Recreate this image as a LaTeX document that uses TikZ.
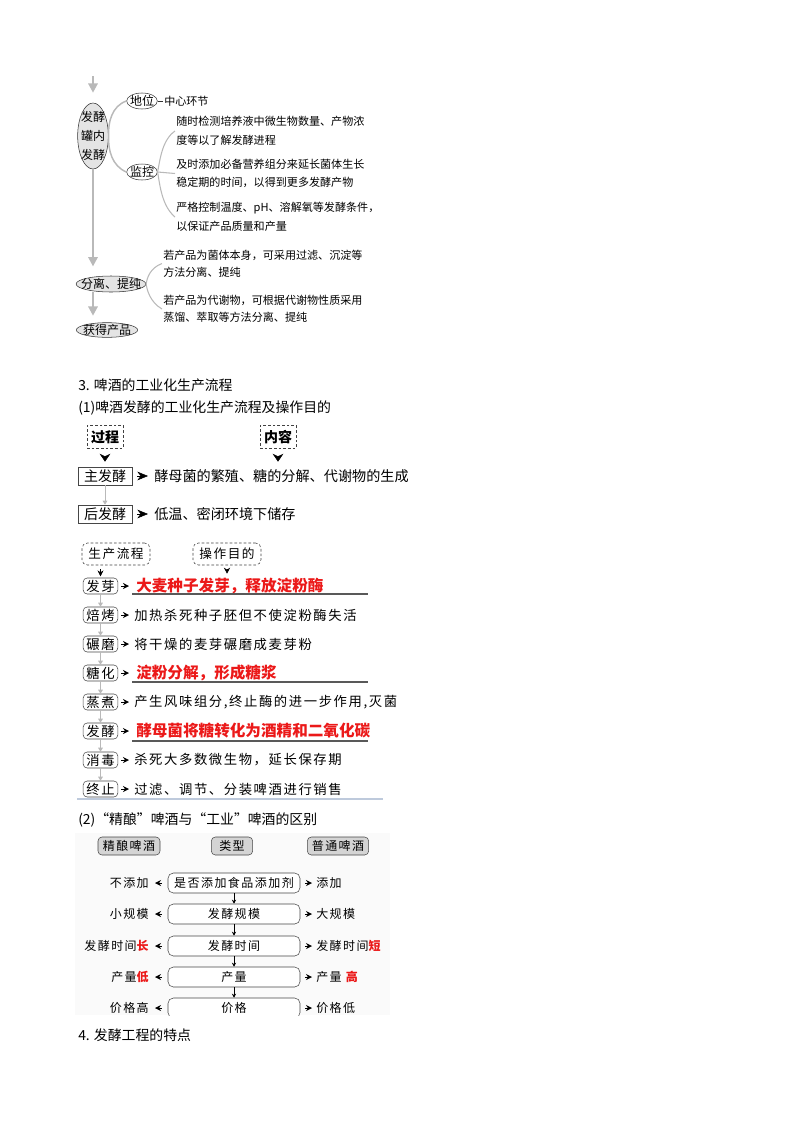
\documentclass[tikz,border=0pt]{standalone}
\usepackage{fontspec}
\setmainfont{Noto Sans CJK SC}
\newfontfamily\spc[LetterSpace=12]{Noto Sans CJK SC}
\usetikzlibrary{arrows.meta,shapes.geometric}

\definecolor{branchgray}{RGB}{185,185,185}
\definecolor{ovalfill}{RGB}{228,228,228}
\definecolor{boxline}{RGB}{70,70,70}
\definecolor{keyred}{RGB}{235,25,25}
\definecolor{tabfill}{RGB}{212,212,212}
\definecolor{rulegray}{RGB}{190,202,220}
\definecolor{panelgray}{RGB}{250,250,250}
\newcommand{\hot}[1]{{\color{keyred}\bfseries #1}}

\begin{document}
\begin{tikzpicture}[x=0.75pt,y=0.75pt,yscale=-1,xscale=1,
    every node/.style={inner sep=0.75pt},
    oval/.style={draw=black!80,ellipse,inner xsep=-4pt,inner ysep=-1.5pt,font=\fontsize{9}{14.5}\selectfont},
    note/.style={anchor=west,align=left,font=\fontsize{8.3}{14}\selectfont},
    graylink/.style={draw=branchgray,line width=1.6pt,-{Triangle[length=7pt,width=7pt]}},
    branch/.style={draw=branchgray,line width=1.1pt},
    head/.style={anchor=west,font=\fontsize{10.4}{12}\selectfont},
    tagbox/.style={draw=black!75,dash pattern=on 2pt off 1.5pt,minimum width=27pt,minimum height=17pt,font=\bfseries\fontsize{10.5}{12}\selectfont},
    stage/.style={draw=boxline,minimum width=40.5pt,minimum height=13.5pt,font=\fontsize{10.5}{12}\selectfont},
    aim/.style={anchor=west,font=\fontsize{10.6}{12}\selectfont},
    bigtip/.style={-{Stealth[length=6pt,width=8pt]},shorten <=5.25pt,shorten >=3.75pt},
    sidetip/.style={-{Stealth[length=8pt,width=6.5pt,inset=2.5pt]},shorten <=3.75pt,shorten >=3.75pt},
    smalltip/.style={-{Stealth[length=4.5pt,width=4.5pt,inset=1.5pt]}},
    grayhop/.style={draw=branchgray,line width=0.6pt,-{Triangle[length=3pt,width=3.5pt]}},
    roundtag/.style={draw=black!75,dash pattern=on 2pt off 1.5pt,rounded corners=4pt,minimum width=51pt,minimum height=16.5pt,font=\spc\fontsize{9.5}{12}\selectfont},
    stepbox/.style={draw=boxline,rounded corners=3pt,minimum width=26pt,minimum height=12pt,font=\spc\fontsize{10}{12}\selectfont},
    stepaim/.style={anchor=west,font=\spc\fontsize{10}{12}\selectfont},
    redaim/.style={anchor=west,text=keyred,font=\bfseries\fontsize{11.7}{13}\selectfont},
    uline/.style={draw=black!65,line width=0.8pt},
    headbox/.style={draw=boxline,fill=tabfill,rounded corners=3pt,minimum height=13.5pt,font=\spc\fontsize{9}{12}\selectfont},
    pairbox/.style={draw=boxline,fill=white,rounded corners=4pt,minimum width=99pt,minimum height=15pt,font=\spc\fontsize{9}{12}\selectfont},
    pairlabel/.style={font=\spc\fontsize{9}{12}\selectfont}
  ]
    \useasboundingbox (0,0) rectangle (800,1132);

    %Shape: Ellipse [tank]
    \coordinate (tankin) at (93,76);
    \node[oval,fill=ovalfill,minimum width=23pt,minimum height=49.5pt,align=center] (tank) at (93,136) {发酵\\罐内\\发酵};
    %Shape: Ellipse [position / monitor]
    \node[oval,minimum width=23pt,minimum height=12pt] (diwei) at (142,101) {地位};
    \node[oval,minimum width=23pt,minimum height=12pt] (jiankong) at (142,172) {监控};
    %Shape: Ellipse [separation / product]
    \node[oval,fill=ovalfill,minimum width=51pt,minimum height=12pt] (fenli) at (111,284) {分离、提纯};
    \node[oval,fill=ovalfill,minimum width=46pt,minimum height=11pt] (product) at (107,330) {获得产品};

    % Text Node
    \node[note] (core) at (163,101) {中心环节};
    % Text Node
    \node[note] (watch) at (175,131) {随时检测培养液中微生物数量、产物浓\\度等以了解发酵进程};
    % Text Node
    \node[note] (feed) at (175,173.5) {及时添加必备营养组分来延长菌体生长\\稳定期的时间，以得到更多发酵产物};
    % Text Node
    \node[note] (cond) at (175,217) {严格控制温度、pH、溶解氧等发酵条件，\\以保证产品质量和产量};
    % Text Node
    \node[note,font=\fontsize{8.3}{13}\selectfont] (cells) at (162,263.5) {若产品为菌体本身，可采用过滤、沉淀等\\方法分离、提纯};
    % Text Node
    \node[note,font=\fontsize{8.3}{13}\selectfont] (metab) at (162,309) {若产品为代谢物，可根据代谢物性质采用\\蒸馏、萃取等方法分离、提纯};

    %Straight Lines
    \draw[graylink,shorten >=7.5pt] (tankin) -- (tank.north);
    \draw[graylink,shorten >=7pt] (tank.south) -- (tank.south |- fenli.north);
    \draw[graylink,shorten >=5pt] (tank.south |- fenli.south) -- (tank.south |- product.north);
    \draw[black!80] (diwei) -- (core);
    %Curve Lines
    \draw[branch] (diwei.west) .. controls (112,106) and (108,122) .. (tank.east) .. controls (108,150) and (112,166) .. (jiankong.west);
    \draw[branch,line width=0.8pt] (watch.west) .. controls (162,140) and (160,160) .. (jiankong.east) .. controls (160,186) and (162,206) .. (cond.west);
    \draw[branch,line width=0.8pt] (jiankong.east) -- (feed.west);
    \draw[branch,line width=0.8pt] (cells.west) .. controls (150,268) and (147,278) .. (fenli.east) .. controls (147,290) and (150,302) .. (metab.west);

    % Text Node
    \node[head] (sec3) at (77,385) {3. 啤酒的工业化生产流程};
    % Text Node
    \node[head] (sub1) at (77,408) {(1)啤酒发酵的工业化生产流程及操作目的};

    %Shape: Rectangle [process / content]
    \node[tagbox] (process) at (105,437) {过程};
    \node[tagbox] (content) at (278,437) {内容};
    \node[stage] (mainferm) at (105,476) {主发酵};
    \node[stage] (postferm) at (105,514) {后发酵};
    % Text Node
    \node[aim] (mainaim) at (153,476) {酵母菌的繁殖、糖的分解、代谢物的生成};
    \node[aim] (postaim) at (153,514) {低温、密闭环境下储存};

    \draw[bigtip] (process.south) -- (mainferm.north);
    \draw[bigtip] (content.south) -- (content.south |- mainferm.north);
    \draw[sidetip] (mainferm.east) -- (mainaim.west);
    \draw[sidetip] (postferm.east) -- (postaim.west);
    \draw[grayhop] (mainferm.south) -- (postferm.north);

    %Shape: Rounded Rectangle [flow / aim]
    \node[roundtag] (flowtag) at (116,554) {生产流程};
    \node[roundtag] (aimtag) at (227,554) {操作目的};

    %Shape: Rounded Rectangle [steps]
    \node[stepbox] (faya) at (100.5,586) {发芽};
    \node[stepbox] (beikao) at (100.5,615) {焙烤};
    \node[stepbox] (nianmo) at (100.5,644) {碾磨};
    \node[stepbox] (tanghua) at (100.5,673) {糖化};
    \node[stepbox] (zhengzhu) at (100.5,702) {蒸煮};
    \node[stepbox] (fajiao) at (100.5,731) {发酵};
    \node[stepbox] (xiaodu) at (100.5,760) {消毒};
    \node[stepbox] (zhongzhi) at (100.5,789) {终止};

    % Text Node
    \node[redaim] (fayaaim) at (135,586) {大麦种子发芽，释放淀粉酶};
    \node[stepaim] (beikaoaim) at (133,615) {加热杀死种子胚但不使淀粉酶失活};
    \node[stepaim] (nianmoaim) at (133,644) {将干燥的麦芽碾磨成麦芽粉};
    \node[redaim] (tanghuaaim) at (135,673) {淀粉分解，形成糖浆};
    \node[stepaim] (zhengzhuaim) at (133,702) {产生风味组分,终止酶的进一步作用,灭菌};
    \node[redaim] (fajiaoaim) at (135,731) {酵母菌将糖转化为酒精和二氧化碳};
    \node[stepaim] (xiaoduaim) at (133,760) {杀死大多数微生物，延长保存期};
    \node[stepaim] (zhongzhiaim) at (133,789) {过滤、调节、分装啤酒进行销售};

    \draw[smalltip,shorten <=3pt,shorten >=1pt] (flowtag.south -| faya.north) -- (faya.north);
    \draw[smalltip,shorten <=3pt,shorten >=3pt] (aimtag.south) -- (aimtag.south |- faya.north);
    \draw[smalltip,shorten <=2.25pt,shorten >=4.5pt] (faya.east) -- (fayaaim.west);
    \draw[smalltip,shorten <=2.25pt,shorten >=3pt] (beikao.east) -- (beikaoaim.west);
    \draw[smalltip,shorten <=2.25pt,shorten >=3pt] (nianmo.east) -- (nianmoaim.west);
    \draw[smalltip,shorten <=2.25pt,shorten >=4.5pt] (tanghua.east) -- (tanghuaaim.west);
    \draw[smalltip,shorten <=2.25pt,shorten >=3pt] (zhengzhu.east) -- (zhengzhuaim.west);
    \draw[smalltip,shorten <=2.25pt,shorten >=4.5pt] (fajiao.east) -- (fajiaoaim.west);
    \draw[smalltip,shorten <=2.25pt,shorten >=3pt] (xiaodu.east) -- (xiaoduaim.west);
    \draw[smalltip,shorten <=2.25pt,shorten >=3pt] (zhongzhi.east) -- (zhongzhiaim.west);
    \draw[grayhop] (faya.south) -- (beikao.north);
    \draw[grayhop] (beikao.south) -- (nianmo.north);
    \draw[grayhop] (nianmo.south) -- (tanghua.north);
    \draw[grayhop] (tanghua.south) -- (zhengzhu.north);
    \draw[grayhop] (zhengzhu.south) -- (fajiao.north);
    \draw[grayhop] (fajiao.south) -- (xiaodu.north);
    \draw[grayhop] (xiaodu.south) -- (zhongzhi.north);
    %Straight Lines [underlines]
    \draw[uline] (132,594) -- (368,594);
    \draw[uline] (132,682) -- (368,682);
    \draw[uline] (132,741) -- (368,741);
    \draw[draw=rulegray,line width=0.8pt] (77,799) -- (383,799);

    % Text Node
    \node[head] (sub2) at (77,820) {(2)“精酿”啤酒与“工业”啤酒的区别};

    %Shape: Rectangle [faint panel]
    \fill[panelgray] (75,833) rectangle (390,1015);
    %Shape: Rounded Rectangle [header]
    \node[headbox,minimum width=46.5pt] (craft) at (129,846) {精酿啤酒};
    \node[headbox,minimum width=31pt] (kind) at (232,846) {类型};
    \node[headbox,minimum width=46pt] (regular) at (338,846) {普通啤酒};

    %Shape: Rounded Rectangle [items]
    \node[pairbox] (additive) at (234,883) {是否添加食品添加剂};
    \node[pairbox] (scale) at (234,914) {发酵规模};
    \node[pairbox] (period) at (234,946) {发酵时间};
    \node[pairbox] (output) at (234,977) {产量};
    \begin{scope}
      \clip (0,0) rectangle (800,1015);
      \node[pairbox] (price) at (234,1008) {价格};
    \end{scope}

    % Text Node
    \node[pairlabel,anchor=east] (addl) at (150,883) {不添加};
    \node[pairlabel,anchor=east] (scalel) at (150,914) {小规模};
    \node[pairlabel,anchor=east] (periodl) at (150,946) {发酵时间\hot{长}};
    \node[pairlabel,anchor=east] (outputl) at (150,977) {产量\hot{低}};
    \node[pairlabel,anchor=east] (pricel) at (150,1008) {价格高};
    \node[pairlabel,anchor=west] (addr) at (315,883) {添加};
    \node[pairlabel,anchor=west] (scaler) at (315,914) {大规模};
    \node[pairlabel,anchor=west] (periodr) at (315,946) {发酵时间\hot{短}};
    \node[pairlabel,anchor=west] (outputr) at (315,977) {产量 \hot{高}};
    \node[pairlabel,anchor=west] (pricer) at (315,1008) {价格低};

    \draw[smalltip,shorten <=4.5pt,shorten >=3.75pt] (additive.west) -- (addl.east);
    \draw[smalltip,shorten <=4.5pt,shorten >=3.75pt] (scale.west) -- (scalel.east);
    \draw[smalltip,shorten <=4.5pt,shorten >=3.75pt] (period.west) -- (periodl.east);
    \draw[smalltip,shorten <=4.5pt,shorten >=3.75pt] (output.west) -- (outputl.east);
    \draw[smalltip,shorten <=4.5pt,shorten >=3.75pt] (price.west) -- (pricel.east);
    \draw[smalltip,shorten <=3.75pt,shorten >=2.25pt] (additive.east) -- (addr.west);
    \draw[smalltip,shorten <=3.75pt,shorten >=2.25pt] (scale.east) -- (scaler.west);
    \draw[smalltip,shorten <=3.75pt,shorten >=2.25pt] (period.east) -- (periodr.west);
    \draw[smalltip,shorten <=3.75pt,shorten >=2.25pt] (output.east) -- (outputr.west);
    \draw[smalltip,shorten <=3.75pt,shorten >=2.25pt] (price.east) -- (pricer.west);
    \draw[line width=0.5pt,-{Stealth[length=3pt,width=3pt]}] (additive.south) -- (scale.north);
    \draw[line width=0.5pt,-{Stealth[length=3pt,width=3pt]}] (scale.south) -- (period.north);
    \draw[line width=0.5pt,-{Stealth[length=3pt,width=3pt]}] (period.south) -- (output.north);
    \draw[line width=0.5pt,-{Stealth[length=3pt,width=3pt]}] (output.south) -- (price.north);

    % Text Node
    \node[head] (sec4) at (77,1035) {4. 发酵工程的特点};

\end{tikzpicture}
\end{document}
